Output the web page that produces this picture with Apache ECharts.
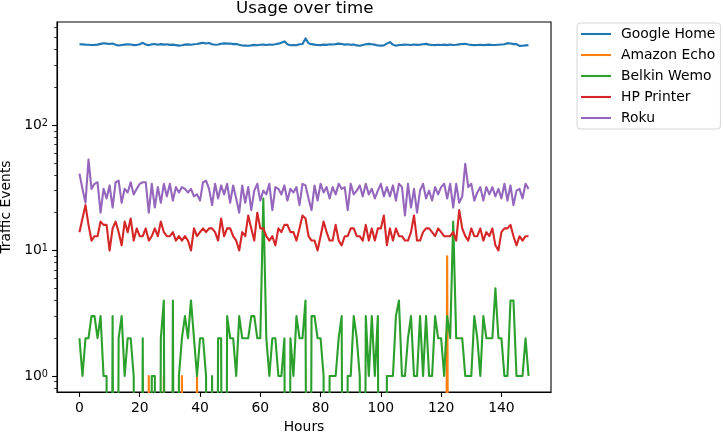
<!DOCTYPE html>
<html>
<head>
<meta charset="utf-8">
<script src="https://cdn.jsdelivr.net/npm/echarts@6/dist/echarts.min.js"></script>
<style>
html,body{margin:0;padding:0;background:#fff;}
#chart{width:723px;height:432px;}
</style>
</head>
<body>
<div id="chart"></div>
<script>
// ---- data ----
const seriesNames = ['Google Home', 'Amazon Echo', 'Belkin Wemo', 'HP Printer', 'Roku'];
const xTicks = [0, 20, 40, 60, 80, 100, 120, 140];
const yMajorTicks = [1, 10, 100];
const yMinorTicks = [0.8, 0.9, 2, 3, 4, 5, 6, 7, 8, 9, 20, 30, 40, 50, 60, 70, 80, 90, 200, 300, 400, 500, 600];

const googleHome = [
440,439,437,436,434,435,437,443,448,445,442,446,436,430,434,437,440,438,433,434,
440,452,438,433,440,442,436,441,437,440,435,437,433,429,432,437,439,436,440,442,
447,452,446,450,440,436,438,444,447,445,446,441,443,436,430,429,428,431,435,432,
436,437,434,438,436,440,445,452,464,440,432,433,432,440,442,490,448,441,437,434,
433,437,435,440,438,441,445,442,437,440,436,438,431,428,434,440,443,440,437,430,
429,431,445,458,437,428,434,435,437,436,434,438,435,437,440,443,437,434,433,436,
434,437,433,438,434,436,439,442,444,438,435,433,434,436,433,435,437,434,434,436,
438,440,449,446,441,442,427,428,431,432];

const amazonEcho = [
0,0,0,0,0,0,0,0,0,0,0,0,0,0,0,0,0,0,0,0,
0,0,0,1,0,0,0,0,1,0,0,0,0,0,1,0,0,0,0,1,
0,0,0,0,0,0,0,0,0,0,0,0,0,0,0,0,0,0,0,0,
0,0,0,0,0,0,0,0,0,0,0,0,0,0,0,0,0,0,0,0,
0,0,0,0,0,0,0,0,0,0,0,0,0,0,0,0,0,0,0,0,
0,0,0,0,0,0,0,0,0,0,0,0,0,0,0,0,0,0,0,0,
0,0,9,0,0,0,0,0,0,0,0,0,0,0,0,0,0,0,0,0,
0,0,0,0,0,0,0,0,0,0];

const belkinWemo = [
2,1,2,2,3,3,2,3,1,1,0,3,0,2,3,1,2,2,1,0,
0,2,0,0,1,1,0,2,4,0,0,4,0,1,2,3,2,4,2,1,
2,2,1,0,1,0,2,2,0,3,2,2,1,3,2,2,2,3,3,2,
2,26,2,1,2,2,1,1,2,0,2,1,3,2,2,4,0,3,3,2,
2,1,0,1,1,1,2,3,0,1,1,3,2,1,0,3,1,3,1,3,
0,0,1,1,1,3,4,1,1,2,3,1,1,3,1,3,1,1,3,2,
2,1,3,2,17,2,2,2,1,1,1,3,2,1,3,2,2,2,5,2,
2,1,1,4,4,1,1,1,2,1];

const hpPrinter = [
14,18,23,16,12,13,13,17,16,16,10,15,17,14,11,17,14,18,12,15,
13,13,15,12,13,15,13,17,14,13,13,14,12,13,12,13,12,10,15,13,
14,15,14,15,15,14,12,18,13,15,15,13,12,10,14,13,19,15,12,20,
15,15,13,12,13,11,15,14,16,16,14,14,12,15,19,18,13,12,12,10,
13,17,14,12,12,16,12,11,13,13,15,15,13,13,12,16,12,15,12,15,
15,19,11,15,12,15,13,13,12,12,14,19,12,12,14,15,15,14,13,15,
14,13,13,13,14,12,21,15,13,12,15,13,13,15,12,14,13,15,11,10,
14,15,15,16,13,11,13,12,13,13];

const roku = [
41,31,24,53,31,34,35,20,31,26,33,22,35,36,24,31,29,35,28,31,
34,35,35,20,34,22,32,24,34,27,34,25,32,29,32,31,29,31,27,28,
25,35,36,31,23,34,26,33,28,34,24,33,26,20,33,24,32,21,30,34,
25,30,28,34,21,32,31,28,33,25,31,29,32,23,34,33,26,21,33,25,
34,29,32,26,32,28,34,31,32,21,34,28,30,33,27,34,28,31,26,30,
34,27,32,27,33,25,34,32,19,34,22,31,20,30,34,26,30,25,32,28,
32,34,26,34,22,34,24,27,49,32,34,25,29,32,25,32,28,32,27,31,
26,34,25,33,23,30,31,26,34,31];

const colors = ['#1f77b4', '#ff7f0e', '#2ca02c', '#d62728', '#9467bd'];
const allValues = [googleHome, amazonEcho, belkinWemo, hpPrinter, roku];
const hours = googleHome.map((_, i) => i);

// zero counts cannot sit on a log axis: send them far below the plot (clipped), like matplotlib's clipping
const FLOOR = 1e-6;

const FONT = 'DejaVu Sans';
const chart = echarts.init(document.getElementById('chart'), null, {renderer: 'canvas'});

const yMin = 0.7456, yMax = 662;
const legendLine = 'path://M0,0 L30,0 L30,2.1 L0,2.1 Z';

const option = {
  animation: false,
  backgroundColor: '#fff',
  textStyle: {fontFamily: FONT},
  title: {
    text: 'Usage over time',
    left: 236, top: 0, padding: 0,
    textStyle: {fontFamily: FONT, fontSize: 16.7, fontWeight: 'normal', color: '#000'}
  },
  legend: {
    orient: 'vertical',
    left: 577, top: 23,
    padding: [4, 5, 4, 4],
    itemWidth: 30, itemHeight: 14, itemGap: 7,
    icon: legendLine,
    borderColor: 'rgba(204,204,204,0.8)', borderWidth: 1, borderRadius: 3,
    backgroundColor: '#fff',
    textStyle: {fontFamily: FONT, fontSize: 13.9, color: '#000', padding: [0, 0, 0, 5]},
    data: seriesNames
  },
  grid: {
    left: 57, right: 172, top: 22, bottom: 40,
    outerBoundsMode: 'none', containLabel: false,
    show: true, borderColor: '#000', borderWidth: 1.1, backgroundColor: 'transparent'
  },
  xAxis: {
    type: 'value', min: -7.45, max: 156.45,
    name: 'Hours', nameLocation: 'middle', nameGap: 27,
    nameTextStyle: {fontFamily: FONT, fontSize: 13.9, color: '#000'},
    axisLine: {show: true, onZero: false, lineStyle: {color: '#000', width: 1.1}},
    axisTick: {show: true, length: 4.9, lineStyle: {color: '#000', width: 1.1}, customValues: xTicks},
    axisLabel: {show: true, margin: 9, fontFamily: FONT, fontSize: 13.9, color: '#000', customValues: xTicks},
    splitLine: {show: false}
  },
  yAxis: [
    {
      type: 'log', min: yMin, max: yMax, logBase: 10,
      name: 'Traffic Events', nameLocation: 'middle', nameGap: 42,
      nameTextStyle: {fontFamily: FONT, fontSize: 13.9, color: '#000'},
      axisLine: {show: true, onZero: false, lineStyle: {color: '#000', width: 1.1}},
      axisTick: {show: true, length: 4.9, lineStyle: {color: '#000', width: 1.1}, customValues: yMajorTicks},
      axisLabel: {
        show: true, margin: 9, customValues: yMajorTicks,
        formatter: function (v) { return '{b|10}{s|' + Math.round(Math.log10(v)) + '}'; },
        rich: {
          b: {fontFamily: FONT, fontSize: 13.9, color: '#000', lineHeight: 14, verticalAlign: 'middle'},
          s: {fontFamily: FONT, fontSize: 9.7, color: '#000', lineHeight: 14, verticalAlign: 'top', padding: [0, 0, 10, 0]}
        }
      },
      splitLine: {show: false}
    },
    {
      type: 'log', min: yMin, max: yMax, logBase: 10, position: 'left',
      axisLine: {show: false, onZero: false},
      axisTick: {show: true, length: 2.8, lineStyle: {color: '#000', width: 0.8}, customValues: yMinorTicks},
      axisLabel: {show: false},
      splitLine: {show: false}
    }
  ],
  series: allValues.map((vals, k) => ({
    name: seriesNames[k],
    type: 'line',
    yAxisIndex: 0,
    data: vals.map((v, i) => [hours[i], v > 0 ? v : FLOOR]),
    symbol: 'none',
    clip: true,
    lineStyle: {color: colors[k], width: 2.1, join: 'round', cap: 'butt'},
    itemStyle: {color: colors[k]},
    z: 2 + k
  }))
};
chart.setOption(option);
</script>
</body>
</html>
